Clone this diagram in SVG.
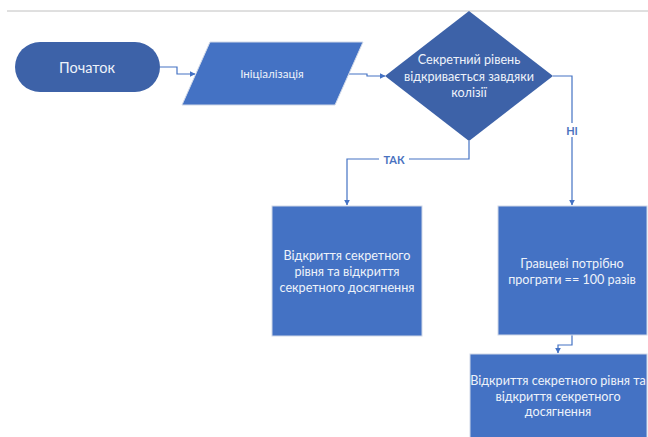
<svg xmlns="http://www.w3.org/2000/svg" width="648" height="437" viewBox="0 0 648 437">
<defs>
<style>
.dark{fill:#3d62a8;stroke:none}
.light{fill:#4472c4;stroke:#d0d8e8;stroke-width:1}
.t{font-family:Lato,"Liberation Sans",sans-serif;fill:#eef2fa;text-anchor:middle;dominant-baseline:central;font-size:12.6px}
.c{fill:none;stroke:#4472c4;stroke-width:1.2}
.lbl{font-family:Lato,"Liberation Sans",sans-serif;fill:#4a72c0;font-size:11px;font-weight:bold;text-anchor:middle;dominant-baseline:central}
</style>
<marker id="ah" viewBox="0 0 10 10" refX="9" refY="5" markerWidth="6" markerHeight="6" orient="auto" markerUnits="userSpaceOnUse">
<path d="M0,0 L10,5 L0,10 z" fill="#4472c4"/>
</marker>
</defs>
<rect width="648" height="437" fill="#ffffff"/>
<line x1="7" y1="11" x2="648" y2="11" stroke="#c0c0c0" stroke-width="1"/>
<g id="connectors">
<polyline class="c" points="160,67 177,67 177,74 195,74" marker-end="url(#ah)"/>
<polyline class="c" points="349,74 367,74 367,76 385,76" marker-end="url(#ah)"/>
<polyline class="c" points="553,76 572,76 572,205" marker-end="url(#ah)"/>
<polyline class="c" points="469,141 469,159 347,159 347,205" marker-end="url(#ah)"/>
<polyline class="c" points="572,335 572,345 558,345 558,353" marker-end="url(#ah)"/>
<rect x="379" y="152" width="30" height="14" fill="#ffffff"/>
<text class="lbl" x="394" y="159">ТАК</text>
<rect x="564" y="123" width="16" height="14" fill="#ffffff"/>
<text class="lbl" x="572" y="130">НІ</text>
</g>
<g id="start">
<rect class="dark" x="15" y="42" width="145" height="50" rx="25"/>
<text class="t" x="87" y="67" style="font-size:14.5px">Початок</text>
</g>
<g id="init">
<polygon class="light" points="210,42 363,42 335,105 182,105"/>
<text class="t" x="272" y="73" style="font-size:11.5px">Ініціалізація</text>
</g>
<g id="decision">
<polygon class="dark" points="469,11 553,76 469,141 385,76"/>
<text class="t" x="469" y="59">Секретний рівень</text>
<text class="t" x="469" y="76">відкривається завдяки</text>
<text class="t" x="469" y="92">колізії</text>
</g>
<g id="yes-box">
<rect class="light" x="272" y="206" width="150" height="130"/>
<text class="t" x="347" y="255">Відкриття секретного</text>
<text class="t" x="347" y="271">рівня та відкриття</text>
<text class="t" x="347" y="287">секретного досягнення</text>
</g>
<g id="no-box">
<rect class="light" x="498" y="206" width="149" height="129"/>
<text class="t" x="572" y="263">Гравцеві потрібно</text>
<text class="t" x="572" y="279">програти == 100 разів</text>
</g>
<g id="final-box">
<rect class="light" x="470" y="354" width="177" height="90"/>
<text class="t" x="558" y="380">Відкриття секретного рівня та</text>
<text class="t" x="558" y="396">відкриття секретного</text>
<text class="t" x="558" y="411">досягнення</text>
</g>
</svg>
